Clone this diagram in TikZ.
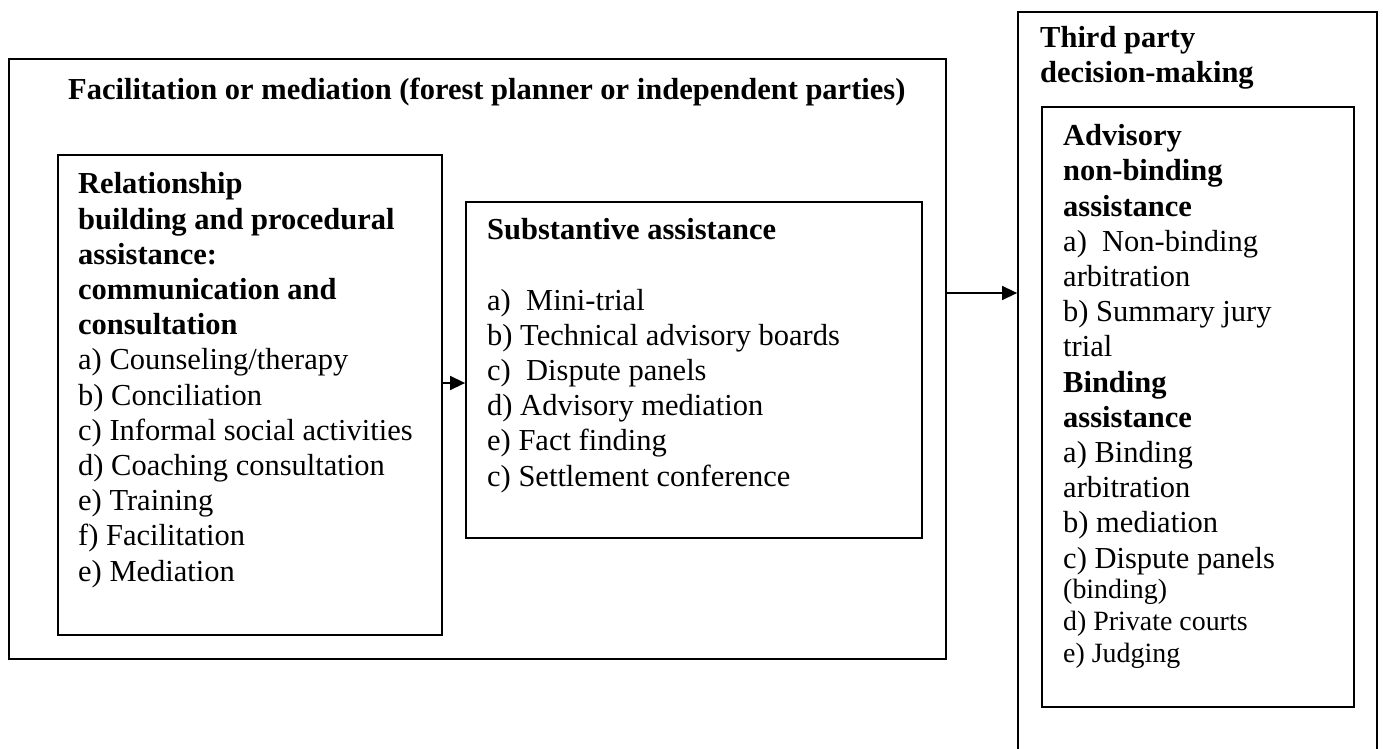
\documentclass[tikz,border=0pt]{standalone}
\usepackage{fontspec}
\setmainfont{Liberation Serif}
\usetikzlibrary{positioning, arrows.meta}

\begin{document}
\begin{tikzpicture}[x=1pt, y=-1pt,
        box/.style={draw, line width=1.8pt, inner sep=0pt},
        txt/.style={anchor=base west, align=left, inner sep=0pt, font=\fontsize{30.5}{35.2}\selectfont},
        smalltxt/.style={txt, font=\fontsize{27.9}{32}\selectfont},
        tip/.style={-{Triangle[length=15pt, width=14pt]}, line width=1.5pt}]
            \useasboundingbox (0,0) rectangle (1383,749);

            % Draw boxes
            \node[box, minimum width=937, minimum height=600] (facil) at (477.5,359) {};
            \node[box, minimum width=384, minimum height=480] (rel) at (250,395) {};
            \node[box, minimum width=456, minimum height=336] (subst) at (694,370) {};
            \node[box, minimum width=359, minimum height=758] (third) at (1197.5,391) {};
            \node[box, minimum width=312, minimum height=600] (advis) at (1198,407) {};

            % Draw texts (placed at the baseline of their last line)
            \node[txt] (faciltext) at (68,100) {\textbf{Facilitation or mediation (forest planner or independent parties)}};
            \node[txt] (reltext) at (78,581) {\textbf{Relationship}\\
                \textbf{building and procedural}\\
                \textbf{assistance:}\\
                \textbf{communication and}\\
                \textbf{consultation}\\
                a) Counseling/therapy\\
                b) Conciliation\\
                c) Informal social activities\\
                d) Coaching consultation\\
                e) Training\\
                f) Facilitation\\
                e) Mediation};
            \node[txt] (substtext) at (487,486) {\textbf{Substantive assistance}\\[35.2pt]
                a)\ \ Mini-trial\\
                b) Technical advisory boards\\
                c)\ \ Dispute panels\\
                d) Advisory mediation\\
                e) Fact finding\\
                c) Settlement conference};
            \node[txt] (thirdtext) at (1040,83) {\textbf{Third party}\\ \textbf{decision-making}};
            \node[txt] (advistext) at (1063,568) {\textbf{Advisory}\\
                \textbf{non-binding}\\
                \textbf{assistance}\\
                a)\ \ Non-binding\\
                arbitration\\
                b) Summary jury\\
                trial\\
                \textbf{Binding}\\
                \textbf{assistance}\\
                a) Binding\\
                arbitration\\
                b) mediation\\
                c) Dispute panels};
            \node[smalltxt] (bindtext) at (1063,662) {(binding)\\ d) Private courts\\ e) Judging};

            % Draw edges
            \draw[tip] (rel.east |- 0,383) -- (subst.west |- 0,383);
            \draw[tip] (facil.east |- 0,293) -- (third.west |- 0,293);
        \end{tikzpicture}
\end{document}
